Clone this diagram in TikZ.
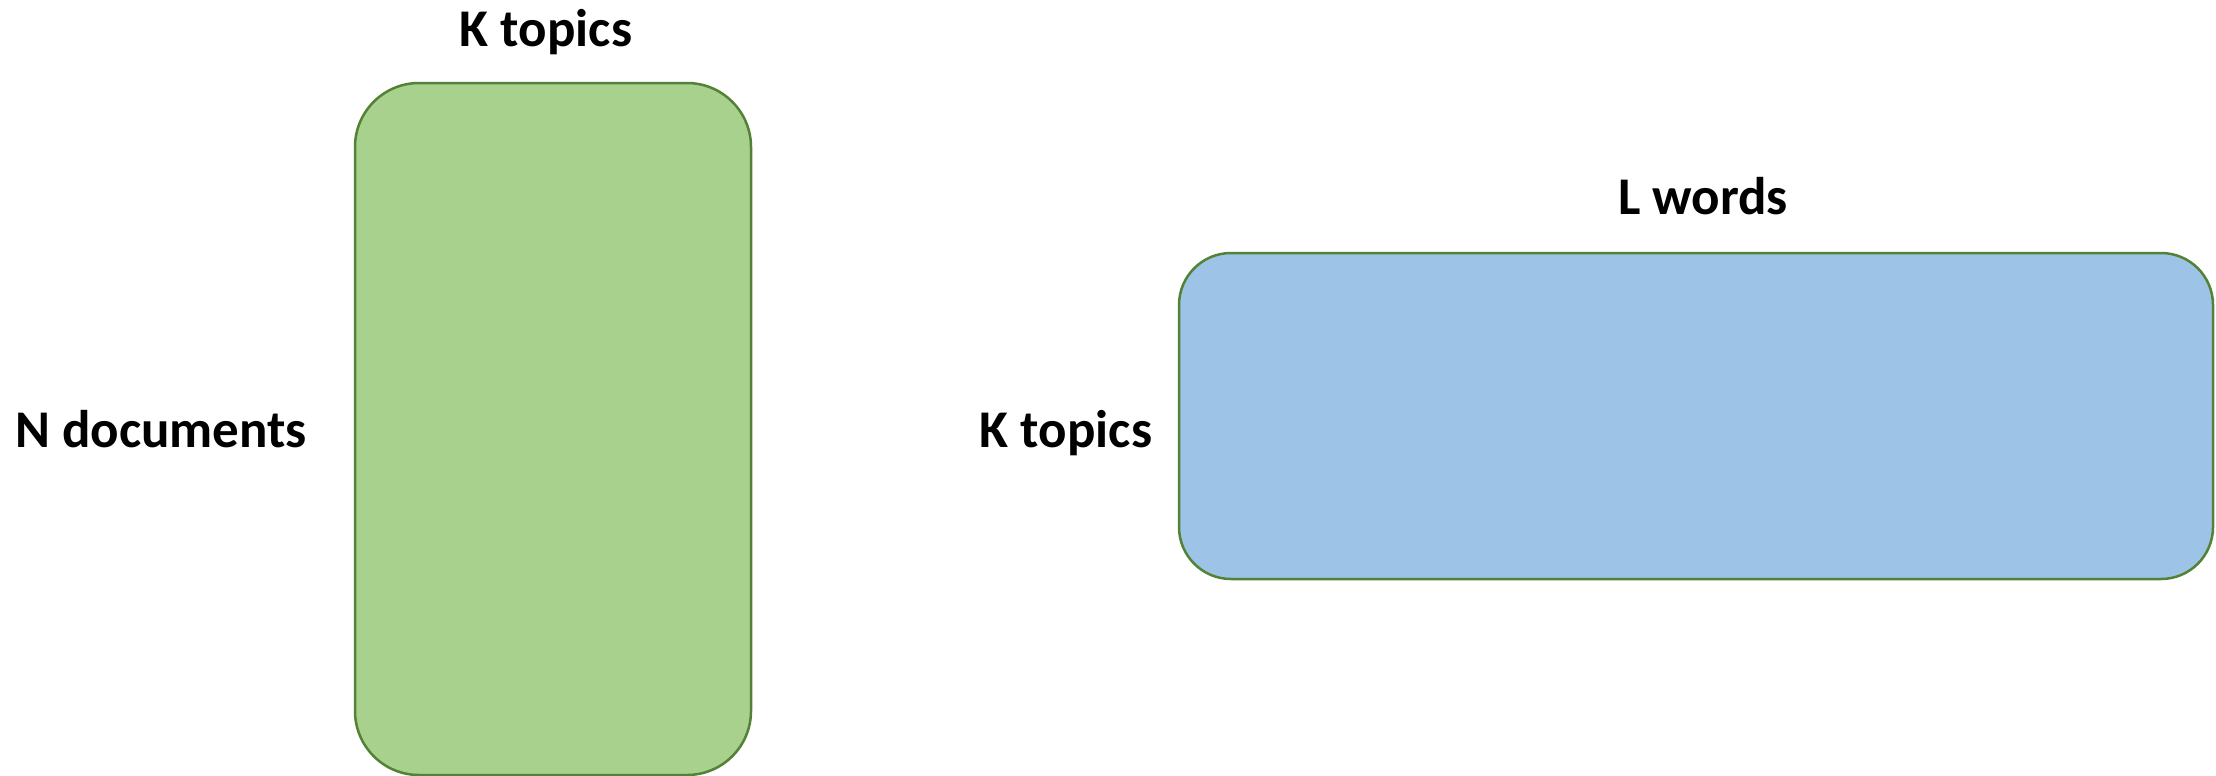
\documentclass[tikz,border=0pt]{standalone}
\usepackage{fontspec}
\setmainfont{Carlito}
\usetikzlibrary{positioning}
\definecolor{topicgreen}{HTML}{A9D18E}
\definecolor{edgegreen}{HTML}{538135}
\definecolor{wordblue}{HTML}{9DC3E6}
\tikzset{
  matbox/.style={draw=edgegreen, line width=2.5pt, rectangle, inner sep=0pt},
  dimlabel/.style={font=\fontsize{53}{60}\selectfont\bfseries, anchor=base, inner sep=0pt}
}
\begin{document}
\begin{tikzpicture}[x=1pt,y=-1pt]
    \useasboundingbox (0,0) rectangle (2216,776);

    % Document-topic matrix
    \node[matbox, fill=topicgreen, rounded corners=64pt,
          minimum width=396pt, minimum height=692pt] (doctopic) at (553,429) {};
    \node[dimlabel] (doctopicK) at (546,47) {K topics};
    \node[dimlabel] (doctopicN) at (161,447) {N documents};

    % Topic-word matrix
    \node[matbox, fill=wordblue, rounded corners=52pt,
          minimum width=1034pt, minimum height=326pt] (topicword) at (1696,416) {};
    \node[dimlabel] (topicwordL) at (1703,214) {L words};
    \node[dimlabel] (topicwordK) at (1066,447) {K topics};
\end{tikzpicture}
\end{document}
